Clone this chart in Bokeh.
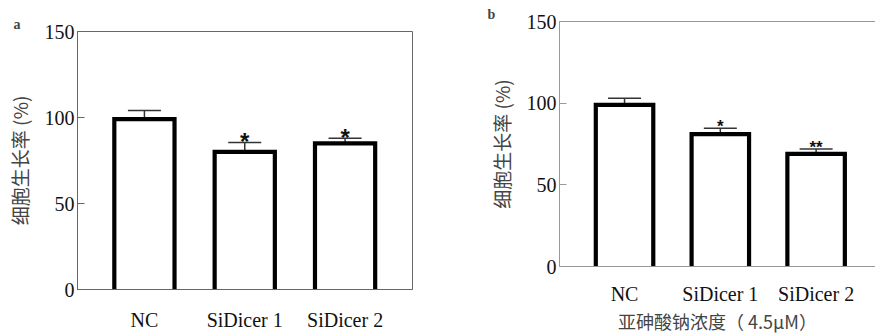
from bokeh.plotting import figure
from bokeh.layouts import row, column
from bokeh.models import (ColumnDataSource, Whisker, TeeHead, FixedTicker, Range1d,
                          LinearAxis, Title)
from bokeh.core.properties import value
from bokeh.embed import file_html
from bokeh.resources import INLINE

categories = ["NC", "SiDicer 1", "SiDicer 2"]
growth_a = [99, 80, 85]
err_a = [5, 5.5, 3]
sig_a = ["", "*", "*"]
growth_b = [99, 81, 69]
err_b = [4, 3.7, 3]
sig_b = ["", "*", "**"]
y_ticks = [0, 50, 100, 150]
ylabel = "细胞生长率 (%)"
xlabel_b = "亚砷酸钠浓度（ 4.5μM）"

SERIF = "'Liberation Serif', 'Times New Roman', serif"
CJK = "'Noto Sans CJK SC'"


def make_panel(vals, errs, sigs, letter, width, height, borders, xr, axis_color,
               star_size, star_off, title_offset, tick_standoff, xlabel=None, box=True):
    pos = list(range(1, len(categories) + 1))
    p = figure(width=width, height=height, output_backend="svg", toolbar_location=None,
               x_range=Range1d(*xr), y_range=Range1d(0, 150),
               min_border_left=borders[0], min_border_right=borders[1],
               min_border_top=borders[2], min_border_bottom=borders[3])
    p.background_fill_color = "white"
    p.border_fill_color = "white"
    p.grid.visible = False
    xa = p.below[0]
    ya = p.left[0]
    if box:
        p.outline_line_color = axis_color
        p.outline_line_width = 1
    else:
        p.outline_line_color = None
        top = LinearAxis(axis_line_color=axis_color, major_tick_line_color=None,
                         minor_tick_line_color=None, major_label_text_font_size="0px",
                         major_label_standoff=0)
        top.ticker = FixedTicker(ticks=[])
        p.add_layout(top, "above")

    w = 0.6
    xs = [[x - w / 2, x - w / 2, x + w / 2, x + w / 2] for x in pos]
    ys = [[0, v, v, 0] for v in vals]
    p.vbar(x=pos, top=vals, width=w, fill_color="white", line_color=None)
    p.multi_line(xs=xs, ys=ys, line_color="black", line_width=4.2, line_join="miter")

    src = ColumnDataSource(dict(x=pos, upper=[v + e for v, e in zip(vals, errs)],
                                lower=[v - e for v, e in zip(vals, errs)], sig=sigs))
    wcol = "#333333"
    p.add_layout(Whisker(source=src, base="x", upper="upper", lower="lower",
                         line_color=wcol, line_width=1.5,
                         upper_head=TeeHead(size=33, line_color=wcol, line_width=1.5),
                         lower_head=TeeHead(size=33, line_color=wcol, line_width=1.5)))
    p.text(x="x", y="upper", text="sig", source=src, text_align="center",
           text_baseline="bottom", text_font=value("Liberation Sans"),
           text_font_style="bold", text_font_size=star_size, y_offset=star_off,
           text_color="#111111")

    ya.ticker = FixedTicker(ticks=y_ticks)
    ya.major_tick_in = 7
    ya.major_tick_out = 0
    ya.minor_tick_line_color = None
    ya.axis_line_color = axis_color
    ya.major_tick_line_color = axis_color
    ya.major_label_text_font = SERIF
    ya.major_label_text_font_size = "20px"
    ya.major_label_text_color = "#111111"
    ya.major_label_standoff = 3
    ya.axis_label = ylabel
    ya.axis_label_text_font = CJK
    ya.axis_label_text_font_style = "normal"
    ya.axis_label_text_font_size = "19px"
    ya.axis_label_text_color = "#444444"
    ya.axis_label_standoff = 9

    xa.ticker = FixedTicker(ticks=pos)
    xa.major_label_overrides = {x: c for x, c in zip(pos, categories)}
    xa.major_tick_line_color = None
    xa.minor_tick_line_color = None
    xa.axis_line_color = axis_color
    xa.major_label_text_font = SERIF
    xa.major_label_text_font_size = "20px"
    xa.major_label_text_color = "#111111"
    xa.major_label_standoff = tick_standoff
    if xlabel:
        xa.axis_label = xlabel
        xa.axis_label_text_font = CJK
        xa.axis_label_text_font_style = "normal"
        xa.axis_label_text_font_size = "18px"
        xa.axis_label_text_color = "#444444"
        xa.axis_label_standoff = 0

    p.title = Title(text=letter, align="left", offset=title_offset, text_font=SERIF,
                    text_font_style="bold", text_font_size="14px", standoff=0)
    return p


pa = make_panel(growth_a, err_a, sig_a, "a", 440, 336, (77, 28, 31, 47),
                (1 - 0.667, 3 + 0.672), "#666666", "24px", 13, -64, 13)
pb = make_panel(growth_b, err_b, sig_b, "b", 435, 336, (119, 0, 21, 67),
                (1 - 0.679, 3 + 0.62), "#999999", "17px", 8, -72, 10,
                xlabel=xlabel_b, box=False)

layout = row(column(pa), column(pb))
open("out.html", "w").write(file_html(layout, INLINE))
